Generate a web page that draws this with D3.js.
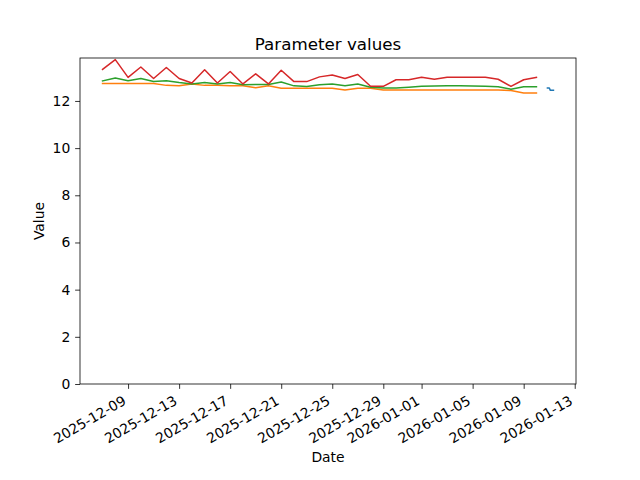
<!DOCTYPE html>
<html><head><meta charset="utf-8">
<script src="https://cdn.jsdelivr.net/npm/d3@7/dist/d3.min.js"></script>
<style>body{margin:0;background:#fff}svg{display:block}text{font-family:"DejaVu Sans",sans-serif;fill:#000}</style>
</head><body>
<script>
const dailyDates = d3.timeDay.range(new Date(2025,11,7), new Date(2026,0,11)).map(d=>d3.timeFormat("%Y-%m-%d")(d));
const redValues = [13.34,13.75,13.0,13.44,12.95,13.42,12.95,12.76,13.32,12.76,13.25,12.72,13.15,12.72,13.3,12.82,12.82,13.02,13.1,12.95,13.12,12.62,12.62,12.9,12.9,13.0,12.92,13.0,13.0,13.0,13.0,12.92,12.62,12.9,13.0];
const greenValues = [12.85,12.97,12.86,12.95,12.82,12.86,12.78,12.72,12.78,12.72,12.78,12.69,12.7,12.7,12.8,12.64,12.61,12.69,12.72,12.64,12.72,12.58,12.55,12.55,12.58,12.62,12.63,12.64,12.64,12.63,12.62,12.6,12.5,12.6,12.6];
const orangeValues = [12.74,12.74,12.74,12.74,12.74,12.66,12.64,12.72,12.66,12.66,12.64,12.64,12.56,12.64,12.54,12.54,12.54,12.54,12.54,12.46,12.54,12.54,12.46,12.46,12.46,12.46,12.46,12.46,12.46,12.46,12.46,12.46,12.44,12.34,12.34];
const blueTimes = ["2026-01-10T20:40","2026-01-11T00:15","2026-01-11T02:10","2026-01-11T08:00"];
const blueValues = [12.55,12.55,12.45,12.45];
const xTickLabels = ["2025-12-09","2025-12-13","2025-12-17","2025-12-21","2025-12-25","2025-12-29","2026-01-01","2026-01-05","2026-01-09","2026-01-13"];
const yTickValues = [0,2,4,6,8,10,12];

const W=640,H=480, L=80,R=576,T=58,B=384;
const parseDay = d3.timeParse("%Y-%m-%d");
const parseTime = d3.timeParse("%Y-%m-%dT%H:%M");
const svg = d3.select("body").append("svg").attr("width",W).attr("height",H);

const series = [
  {color:"#1f77b4", pts: blueTimes.map((t,i)=>[parseTime(t), blueValues[i]])},
  {color:"#ff7f0e", pts: dailyDates.map((t,i)=>[parseDay(t), orangeValues[i]])},
  {color:"#2ca02c", pts: dailyDates.map((t,i)=>[parseDay(t), greenValues[i]])},
  {color:"#d62728", pts: dailyDates.map((t,i)=>[parseDay(t), redValues[i]])},
];
const allPts = series.flatMap(s=>s.pts);
const [x0,x1] = d3.extent(allPts, p=>p[0]);
const pad = (x1-x0)*0.05;
const x = d3.scaleTime().domain([new Date(+x0-pad), new Date(+x1+pad)]).range([L,R]);
const [y0,y1] = d3.extent(allPts, p=>p[1]);
const y = d3.scaleLinear().domain([0, y1+(y1-y0)*0.05]).range([B,T]);

const line = d3.line().x(p=>x(p[0])).y(p=>y(p[1]));
const g = svg.append("g");
series.forEach(s=>{
  g.append("path").attr("d", line(s.pts)).attr("fill","none").attr("stroke",s.color)
   .attr("stroke-width",1.5).attr("stroke-linejoin","round").attr("stroke-linecap","square");
});

// axes
const xAxis = d3.axisBottom(x).tickValues(xTickLabels.map(parseDay)).tickFormat(d3.timeFormat("%Y-%m-%d")).tickSize(4.86).tickPadding(4.86);
const gx = svg.append("g").attr("transform",`translate(0,${B})`).call(xAxis);
gx.select(".domain").remove();
gx.selectAll(".tick line").attr("stroke","#000").attr("stroke-width",0.8);
gx.selectAll(".tick text").attr("font-size","13.9px").attr("text-anchor","end")
  .attr("y",0).attr("dy",0)
  .attr("transform","translate(-1.5,19.5) rotate(-30)");

const yAxis = d3.axisLeft(y).tickValues(yTickValues).tickSize(4.86).tickPadding(4.86);
const gy = svg.append("g").attr("transform",`translate(${L},0)`).call(yAxis);
gy.select(".domain").remove();
gy.selectAll(".tick line").attr("stroke","#000").attr("stroke-width",0.8);
gy.selectAll(".tick text").attr("font-size","13.9px");

svg.append("rect").attr("x",L).attr("y",T).attr("width",R-L).attr("height",B-T)
  .attr("fill","none").attr("stroke","#000").attr("stroke-width",0.8);

svg.append("text").attr("x",(L+R)/2).attr("y",49.5).attr("text-anchor","middle").attr("font-size","16.7px").text("Parameter values");
svg.append("text").attr("x",(L+R)/2).attr("y",462).attr("text-anchor","middle").attr("font-size","13.9px").text("Date");
svg.append("text").attr("transform","translate(44,221) rotate(-90)").attr("text-anchor","middle").attr("font-size","13.9px").text("Value");
</script>
</body></html>
